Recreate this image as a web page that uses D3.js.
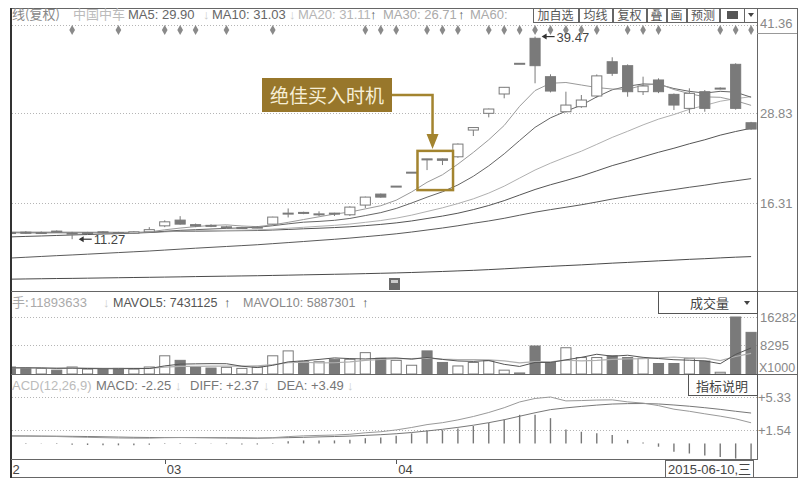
<!DOCTYPE html>
<html><head><meta charset="utf-8">
<script src="https://cdn.jsdelivr.net/npm/d3@7/dist/d3.min.js"></script>
<style>
html,body{margin:0;padding:0;background:#fff;}
svg{display:block;}
text{font-family:"Liberation Sans",Arial,"Noto Sans CJK SC",sans-serif;}
.cjk{font-family:"Noto Sans CJK SC","Liberation Sans",sans-serif;}
</style></head><body>
<svg id="chart" width="806" height="484"></svg>
<script>
// ---------- data ----------
const days = [0,1,2,3,4,5,6,7,8,9,10,11,12,13,14,15,16,17,18,19,20,21,22,23,24,25,26,27,28,29,30,31,32,33,34,35,36,37,38,39,40,41,42,43,44,45,46,47,48];
const openP  = [12.2,12.25,12.1,12.4,12.0,12.1,12.3,12.2,12.1,12.3,13.13,13.93,13.3,13.2,12.95,12.85,12.9,13.37,14.85,15.0,14.75,14.9,14.67,16.02,17.55,18.62,20.58,22.45,22.45,22.74,26.46,28.79,31.48,35.72,39.23,33.89,29.01,29.71,31.2,35.97,35.42,31.8,33.43,31.43,29.48,31.8,32.2,35.61,27.48];
const highP  = [12.35,12.4,12.35,12.5,12.3,12.3,12.4,12.3,12.4,12.95,13.9,14.48,13.45,13.35,13.15,13.0,13.1,14.4,15.55,15.1,15.15,14.95,15.85,17.2,17.62,18.66,20.6,22.45,22.5,24.6,26.81,29.45,32.45,35.75,39.47,34.22,31.8,31.34,34.2,36.59,35.6,33.89,33.66,31.55,32.27,32.03,32.4,35.75,27.6];
const lowP   = [11.95,12.0,12.0,12.2,11.27,11.95,12.05,12.0,12.0,12.2,12.95,13.3,12.95,12.95,12.85,12.7,12.8,13.3,14.3,14.75,14.5,14.5,14.5,15.6,17.05,18.66,20.58,20.89,21.59,22.6,25.63,28.23,30.88,35.72,32.97,31.7,28.9,29.55,30.95,34.0,31.1,31.34,31.6,29.25,28.79,29.01,32.1,29.3,26.5];
const closeP = [12.1,12.1,12.2,12.3,12.1,12.2,12.2,12.1,12.3,12.6,13.69,13.37,13.1,13.15,13.0,12.9,12.95,14.35,14.9,14.95,14.8,14.85,15.74,17.13,17.13,18.66,20.6,22.42,22.25,24.51,26.81,29.39,32.41,35.75,35.42,31.89,29.94,30.64,34.0,34.36,31.8,32.59,31.8,29.94,31.57,29.48,32.3,29.48,26.6];
const ma5  = [12.18,12.16,12.14,12.16,12.16,12.18,12.2,12.18,12.18,12.28,12.58,12.82,13.02,13.19,13.27,13.11,13.02,13.27,13.62,14.01,14.39,14.77,15.05,15.49,15.93,16.70,17.85,19.19,20.24,21.72,23.35,25.11,27.10,29.77,31.96,32.97,33.08,32.73,32.38,32.17,32.15,32.68,32.91,32.10,31.54,31.08,31.02,30.55,29.90];
const ma10 = [12.19,12.18,12.18,12.19,12.18,12.18,12.18,12.17,12.18,12.22,12.38,12.51,12.60,12.69,12.78,12.85,12.92,13.15,13.41,13.64,13.75,13.90,14.16,14.56,14.97,15.55,16.31,17.12,17.87,18.82,20.03,21.48,23.15,25.01,26.84,28.16,29.09,29.92,31.08,32.06,32.56,32.88,32.82,32.24,31.85,31.61,31.85,31.73,31.03];
const ma20 = [12.29,12.28,12.28,12.28,12.27,12.26,12.26,12.25,12.25,12.26,12.33,12.39,12.43,12.47,12.50,12.53,12.57,12.67,12.80,12.93,13.07,13.20,13.38,13.62,13.87,14.20,14.62,15.13,15.64,16.23,16.89,17.69,18.65,19.78,20.90,21.85,22.70,23.52,24.47,25.44,26.29,27.18,27.98,28.62,29.35,29.89,30.47,30.82,31.11];
const ma30 = [11.59,11.66,11.72,11.79,11.86,11.92,11.99,12.05,12.12,12.20,12.32,12.36,12.38,12.41,12.44,12.46,12.48,12.55,12.63,12.72,12.80,12.89,13.00,13.16,13.33,13.54,13.81,14.15,14.49,14.89,15.39,15.96,16.64,17.42,18.19,18.85,19.44,20.06,20.78,21.51,22.11,22.75,23.37,23.93,24.55,25.11,25.75,26.26,26.71];
const ma60 = [8.65,8.76,8.87,8.98,9.08,9.19,9.30,9.41,9.52,9.63,9.76,9.89,10.02,10.14,10.26,10.38,10.50,10.65,10.80,10.95,11.11,11.26,11.43,11.62,11.81,12.02,12.27,12.55,12.83,13.14,13.49,13.81,14.18,14.61,15.03,15.39,15.72,16.06,16.45,16.86,17.22,17.56,17.88,18.18,18.50,18.79,19.12,19.40,19.70];
const ma250 = [5.71,5.74,5.77,5.80,5.82,5.85,5.88,5.91,5.94,5.97,6.00,6.03,6.07,6.10,6.13,6.16,6.19,6.23,6.27,6.31,6.35,6.39,6.43,6.48,6.53,6.58,6.64,6.71,6.78,6.86,6.94,7.04,7.15,7.27,7.39,7.50,7.60,7.70,7.82,7.94,8.04,8.15,8.26,8.36,8.47,8.56,8.67,8.77,8.85];
const volume = [2000,1700,1600,1100,2000,1400,1400,1600,1400,2000,5200,3900,2000,1700,1900,1600,2000,5200,6600,3500,3500,4200,4200,6100,4500,3900,2500,6600,3300,2300,3300,3800,1100,300,8000,3300,7500,4700,4700,5200,4700,4500,3000,3000,4500,3700,500,16282,11894];
const mavol5  = [1760,1760,1740,1620,1680,1560,1500,1500,1560,1560,2320,2820,2900,2960,2940,2220,1840,2480,3460,3780,4160,4600,4400,4300,4500,4580,4240,4720,4160,3720,3600,3860,2760,2160,3300,3300,4040,4760,5640,5080,5360,4760,4420,4080,3940,3740,2940,5600,7431];
const mavol10 = [1730,1730,1720,1660,1690,1660,1630,1620,1590,1620,1940,2160,2200,2260,2250,2270,2330,2690,3210,3360,3190,3220,3440,3880,4140,4370,4420,4560,4230,4110,4090,4050,3740,3160,3510,3450,3950,3760,3900,4190,4330,4400,4590,4860,4510,4550,3850,5010,5887];
const diff = [0.88,0.85,0.82,0.79,0.74,0.70,0.66,0.62,0.60,0.60,0.66,0.68,0.66,0.64,0.61,0.58,0.56,0.66,0.78,0.87,0.92,0.96,1.05,1.22,1.34,1.55,1.83,2.16,2.38,2.70,3.09,3.55,4.10,4.76,5.16,5.33,4.88,4.92,4.98,5.00,4.77,4.63,4.34,3.93,3.69,3.40,3.13,2.82,2.37];
const dea  = [0.85,0.85,0.84,0.83,0.81,0.79,0.76,0.73,0.70,0.68,0.67,0.67,0.67,0.66,0.65,0.64,0.62,0.63,0.66,0.70,0.75,0.79,0.84,0.92,1.00,1.11,1.25,1.43,1.62,1.84,2.09,2.38,2.72,3.12,3.52,3.88,4.08,4.25,4.40,4.52,4.57,4.58,4.53,4.41,4.27,4.10,3.91,3.69,3.49];
const macd = [0.06,0.0,-0.04,-0.08,-0.14,-0.18,-0.20,-0.22,-0.20,-0.16,-0.02,0.02,-0.02,-0.04,-0.08,-0.12,-0.12,0.06,0.24,0.34,0.34,0.34,0.42,0.60,0.68,0.88,1.16,1.46,1.52,1.72,2.00,2.34,2.76,3.28,3.28,2.90,1.60,1.34,1.16,0.96,0.40,0.10,-0.38,-0.96,-1.16,-1.40,-1.56,-1.74,-2.25];
const eventDays = [4,7,10,11,12,14,17,23,24,25,27,28,29,31,32,33,34,35,36,37,38,40,41,42,46,47,48];
const priceTicks = [16.31,28.83,41.36];
const volTicks = [8295,16282];
const macdTicks = [1.54,5.33];
const monthIdx = [0,10,25];
const monthLabels = ["2","03","04"];
const lastDate = "2015-06-10,三";
const stockName = "中国中车";
const buySignal = "绝佳买入时机";
const buyDays = [27,28];
const volHeader = ["11893633","MAVOL5: 7431125","MAVOL10: 5887301"];

// ---------- setup ----------
const svg = d3.select('#chart');
const defs = svg.append('defs');
function clip(id, x, y, w, h){ defs.append('clipPath').attr('id',id).append('rect').attr('x',x).attr('y',y).attr('width',w).attr('height',h); }
const PL = 12, PR = 757;
clip('cm', PL, 9, PR-PL, 282);
clip('cv', PL, 292, PR-PL, 82);
clip('cd', PL, 375, PR-PL, 84);

const x = d3.scaleBand().domain(days).range([2.7, 758.8]).paddingInner(0.28).paddingOuter(0.14);
const cx = i => x(i) + x.bandwidth()/2;
const yP = d3.scaleLinear().domain([16.31, 41.36]).range([203, 23]);
const yV = d3.scaleLinear().domain([0, 16282]).range([374, 317]);
const yM = d3.scaleLinear().domain([1.54, 5.33]).range([430, 397]);

const UPFILL = '#fff', DNFILL = '#7a7a7a', CSTROKE = '#7a7a7a';
const isUp = i => closeP[i] >= openP[i];

function txt(g, xx, yy, s, col, size, cls, anchor){
  return g.append('text').attr('x',xx).attr('y',yy).text(s).attr('fill',col)
    .attr('font-size',size).attr('class',cls||null).attr('text-anchor',anchor||'start');
}

// ---------- grids ----------
const grid = svg.append('g').attr('stroke','#b5b5b5').attr('stroke-dasharray','1,2').attr('stroke-width',1);
priceTicks.forEach(t => { const yy = Math.round(yP(t)) + 0.5 + (t === 41.36 ? 2 : 0);
  grid.append('line').attr('x1',PL).attr('x2',PR).attr('y1',yy).attr('y2',yy); });
volTicks.forEach(t => grid.append('line').attr('x1',PL).attr('x2',PR).attr('y1',Math.round(yV(t))+0.5).attr('y2',Math.round(yV(t))+0.5));
macdTicks.forEach(t => grid.append('line').attr('x1',PL).attr('x2',PR).attr('y1',Math.round(yM(t))+0.5).attr('y2',Math.round(yM(t))+0.5));

// ---------- event diamonds ----------
svg.append('g').selectAll('path').data(eventDays).join('path')
  .attr('d', d3.symbol(d3.symbolDiamond, 28))
  .attr('transform', d => `translate(${cx(d)},30)`)
  .attr('fill','#8a8a8a');

// ---------- main panel ----------
const gm = svg.append('g').attr('clip-path','url(#cm)');
const maDefs = [
  {v: ma250, c:'#4a4a4a'},
  {v: ma60, c:'#5a5a5a'},
  {v: ma30, c:'#555'},
  {v: ma20, c:'#b0b0b0'},
  {v: ma10, c:'#666'},
  {v: ma5,  c:'#9a9a9a'}
];
const lineP = arr => d3.line().x(i => cx(i)).y(i => yP(arr[i]))(days);
maDefs.forEach(m => gm.append('path').attr('d', lineP(m.v)).attr('fill','none').attr('stroke',m.c).attr('stroke-width',1));

const cg = gm.append('g').selectAll('g').data(days).join('g');
cg.append('line').attr('x1',cx).attr('x2',cx)
  .attr('y1',i => yP(highP[i])).attr('y2',i => yP(lowP[i]))
  .attr('stroke',CSTROKE).attr('stroke-width',1);
cg.append('rect')
  .attr('x',i => x(i)+0.5).attr('width',x.bandwidth()-1)
  .attr('y',i => yP(Math.max(openP[i],closeP[i])))
  .attr('height',i => Math.max(1, Math.abs(yP(openP[i]) - yP(closeP[i]))))
  .attr('fill',i => isUp(i) ? UPFILL : DNFILL)
  .attr('stroke',CSTROKE).attr('stroke-width',1);

// high / low labels
const hiIdx = d3.maxIndex(highP), loIdx = d3.minIndex(lowP);
const ann = svg.append('g').attr('fill','#444');
function markLabel(i, val){
  const xx = cx(i) + x.bandwidth()/2 + 1, yy = yP(val);
  ann.append('line').attr('x1',xx+2).attr('x2',xx+13).attr('y1',yy).attr('y2',yy).attr('stroke','#333').attr('stroke-width',1.2);
  ann.append('path').attr('d',`M${xx},${yy}l5,-3l0,6z`).attr('fill','#333');
  txt(ann, xx+15, yy+5, val.toFixed(2), '#444', 13);
}
markLabel(hiIdx, highP[hiIdx]);
markLabel(loIdx, lowP[loIdx]);

// buy-signal annotation
const gold = '#a3842f';
const bx0 = x(buyDays[0]) - 4, bx1 = x(buyDays[1]) + x.bandwidth() + 5;
const by0 = yP(highP[buyDays[0]]) - 8, by1 = yP(lowP[buyDays[0]]) + 20;
svg.append('rect').attr('x',bx0).attr('y',by0).attr('width',bx1-bx0).attr('height',by1-by0)
  .attr('fill','none').attr('stroke',gold).attr('stroke-width',2.5);
svg.append('rect').attr('x',262).attr('y',78).attr('width',130).attr('height',34).attr('fill','#98772b');
txt(svg, 327, 103, buySignal, '#f6eed6', 19, 'cjk', 'middle');
const ax = cx(buyDays[0]) + 5.5;
svg.append('path').attr('d',`M392,95H${ax}V${by0-14}`).attr('fill','none').attr('stroke',gold).attr('stroke-width',2.5);
svg.append('path').attr('d',`M${ax-6},${by0-17}L${ax+6},${by0-17}L${ax},${by0-2}Z`).attr('fill',gold);

// ---------- volume panel ----------
const gv = svg.append('g').attr('clip-path','url(#cv)');
gv.selectAll('rect').data(days).join('rect')
  .attr('x',i => x(i)+0.5).attr('width',x.bandwidth()-1)
  .attr('y',i => yV(volume[i])).attr('height',i => yV(0) - yV(volume[i]))
  .attr('fill',i => isUp(i) ? UPFILL : DNFILL).attr('stroke',CSTROKE).attr('stroke-width',1);
const lineV = arr => d3.line().x(i => cx(i)).y(i => yV(arr[i]))(days);
gv.append('path').attr('d',lineV(mavol10)).attr('fill','none').attr('stroke','#b0b0b0').attr('stroke-width',1.2);
gv.append('path').attr('d',lineV(mavol5)).attr('fill','none').attr('stroke','#555').attr('stroke-width',1);

// ---------- MACD panel ----------
const gd = svg.append('g').attr('clip-path','url(#cd)');
gd.selectAll('line').data(days).join('line')
  .attr('x1',cx).attr('x2',cx).attr('y1',yM(0)).attr('y2',i => Math.abs(macd[i]) < 0.03 ? yM(0)+0.6 : yM(macd[i]))
  .attr('stroke','#777').attr('stroke-width',1.4);
const lineM = arr => d3.line().x(i => cx(i)).y(i => yM(arr[i]))(days);
gd.append('path').attr('d',lineM(dea)).attr('fill','none').attr('stroke','#777').attr('stroke-width',1);
gd.append('path').attr('d',lineM(diff)).attr('fill','none').attr('stroke','#999').attr('stroke-width',1);

// ---------- frame ----------
const fr = svg.append('g').attr('stroke','#666').attr('fill','none').attr('shape-rendering','crispEdges');
fr.append('rect').attr('x',10.5).attr('y',8.5).attr('width',787).attr('height',469);
fr.append('line').attr('x1',11).attr('x2',11).attr('y1',8).attr('y2',478).attr('stroke','#333').attr('stroke-width',2);
fr.append('line').attr('x1',757.5).attr('x2',757.5).attr('y1',8).attr('y2',460);
fr.append('line').attr('x1',11).attr('x2',797).attr('y1',291.5).attr('y2',291.5);
fr.append('line').attr('x1',11).attr('x2',797).attr('y1',374.5).attr('y2',374.5);
fr.append('line').attr('x1',11).attr('x2',757).attr('y1',459.5).attr('y2',459.5);
fr.append('line').attr('x1',757).attr('x2',797).attr('y1',33.5).attr('y2',33.5).attr('stroke','#999');

// right axis labels
const ra = svg.append('g');
priceTicks.forEach(t => txt(ra, 760, Math.round(yP(t)) + 5, t.toFixed(2), '#888', 13));
volTicks.forEach(t => txt(ra, 760, Math.round(yV(t)) + 5, String(t), '#888', 13));
txt(ra, 759, 372, 'X1000', '#888', 12.5);
macdTicks.forEach(t => txt(ra, 758, Math.round(yM(t)) + 5, '+' + t.toFixed(2), '#888', 13));

// ---------- date axis ----------
const da = svg.append('g');
monthIdx.forEach((m, k) => {
  if (k > 0) da.append('line').attr('x1',Math.round(cx(m))+0.5).attr('x2',Math.round(cx(m))+0.5).attr('y1',460).attr('y2',464).attr('stroke','#555');
  txt(da, cx(m) + 2, 474, monthLabels[k], '#444', 13);
});
da.append('rect').attr('x',665.5).attr('y',460.5).attr('width',88).attr('height',17).attr('fill','#fff').attr('stroke','#666');
txt(da, 668, 474, lastDate, '#444', 13);

// ---------- headers ----------
const hd = svg.append('g');
txt(hd, 12, 19, '线(复权)', '#888', 13, 'cjk');
txt(hd, 73, 19, stockName, '#bbb', 13, 'cjk');
txt(hd, 128, 19, 'MA5: ' + ma5[48].toFixed(2), '#666', 13);
txt(hd, 203, 19, '↓', '#ccc', 13);
txt(hd, 212, 19, 'MA10: ' + ma10[48].toFixed(2), '#666', 13);
txt(hd, 289, 19, '↓', '#ccc', 13);
txt(hd, 298, 19, 'MA20: ' + ma20[48].toFixed(2), '#b5b5b5', 13);
txt(hd, 370, 19, '↑', '#555', 13);
txt(hd, 383, 19, 'MA30: ' + ma30[48].toFixed(2), '#aaa', 13);
txt(hd, 458, 19, '↑', '#555', 13);
txt(hd, 470, 19, 'MA60:', '#aaa', 13);
const btns = [['加自选',533,578],['均线',579,612],['复权',613,646],['叠',647,666],['画',667,686],['预测',687,719]];
btns.forEach(b => {
  hd.append('rect').attr('x',b[1]+0.5).attr('y',8.5).attr('width',b[2]-b[1]).attr('height',14).attr('fill','#fff').attr('stroke','#666');
  txt(hd, (b[1]+b[2])/2, 20, b[0], '#555', 12, 'cjk', 'middle');
});
hd.append('rect').attr('x',720.5).attr('y',8.5).attr('width',24).attr('height',14).attr('fill','#fff').attr('stroke','#666');
hd.append('rect').attr('x',727).attr('y',11).attr('width',11).attr('height',8).attr('fill','#555');
hd.append('rect').attr('x',744.5).attr('y',8.5).attr('width',13).attr('height',14).attr('fill','#fff').attr('stroke','#666');
hd.append('path').attr('d','M748,13h6l-3,4z').attr('fill','#444');

// chart-type icon
svg.append('rect').attr('x',389).attr('y',278).attr('width',11).attr('height',12).attr('fill','#6a6a6a');
svg.append('rect').attr('x',391).attr('y',280).attr('width',7).attr('height',3).attr('fill','#ccc');

// volume header
txt(hd, 12, 307, '手:', '#aaa', 13, 'cjk');
txt(hd, 30, 307, volHeader[0], '#aaa', 13);
txt(hd, 103, 307, '↓', '#ccc', 13);
txt(hd, 113, 307, volHeader[1], '#555', 12.5);
txt(hd, 224, 307, '↑', '#555', 13);
txt(hd, 243, 307, volHeader[2], '#888', 12.5);
txt(hd, 362, 307, '↑', '#555', 13);
hd.append('rect').attr('x',658.5).attr('y',291.5).attr('width',99).attr('height',22).attr('fill','#fff').attr('stroke','#555');
txt(hd, 690, 308, '成交量', '#444', 13, 'cjk');
hd.append('path').attr('d','M744,301h6l-3,4z').attr('fill','#444');

// MACD header
txt(hd, 12, 390, 'ACD(12,26,9)', '#bbb', 13);
txt(hd, 96, 390, 'MACD: ' + macd[48].toFixed(2), '#777', 13);
txt(hd, 175, 390, '↓', '#ccc', 13);
txt(hd, 190, 390, 'DIFF: +' + diff[48].toFixed(2), '#777', 13);
txt(hd, 263, 390, '↓', '#ccc', 13);
txt(hd, 277, 390, 'DEA: +' + dea[48].toFixed(2), '#777', 13);
txt(hd, 347, 390, '↓', '#ccc', 13);
hd.append('rect').attr('x',688.5).attr('y',374.5).attr('width',69).attr('height',21).attr('fill','#fff').attr('stroke','#555');
txt(hd, 722, 391, '指标说明', '#444', 13, 'cjk', 'middle');
</script>
</body></html>
